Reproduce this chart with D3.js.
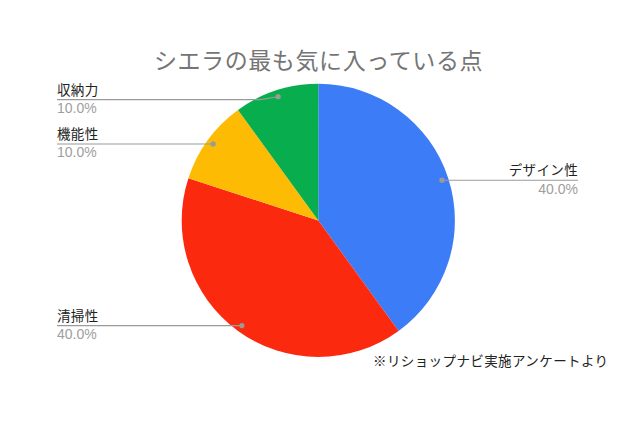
<!DOCTYPE html>
<html><head><meta charset="utf-8">
<script src="https://cdn.jsdelivr.net/npm/d3@7"></script>
<style>
html,body{margin:0;padding:0;background:#fff;}
svg{display:block;font-family:"Noto Sans CJK JP","Noto Sans",sans-serif;}
</style></head>
<body>
<svg id="c" width="640" height="422"></svg>
<script>
const title = "シエラの最も気に入っている点";
const note = "※リショップナビ実施アンケートより";
const categories = ["デザイン性", "清掃性", "機能性", "収納力"];
const values = [40, 40, 10, 10];
const colors = ["#3c7df7", "#fb2a0f", "#fdbb03", "#08ad4e"];

const svg = d3.select("#c");
const W = 640, H = 422;
const cx = 318.3, cy = 220.4, R = 136.6;

svg.append("text").attr("x", 318.5).attr("y", 68.5).attr("text-anchor", "middle")
  .attr("font-size", 23).attr("fill", "#757575").attr("letter-spacing", 0.6).text(title);

const data = categories.map((c, i) => ({cat: c, value: values[i], color: colors[i]}));
const total = d3.sum(values);
const pie = d3.pie().value(d => d.value).sort(null);
const arcs = pie(data);
const arc = d3.arc().innerRadius(0).outerRadius(R);
const g = svg.append("g").attr("transform", `translate(${cx},${cy})`);
g.selectAll("path").data(arcs).join("path").attr("d", arc).attr("fill", d => d.data.color);

const inner = d3.arc().innerRadius(R * 0.952).outerRadius(R * 0.952);
const leftX = 57, rightX = 578, topMin = 99.6;
arcs.forEach(a => {
  const [dx, dy] = inner.centroid(a);
  const px = cx + dx, py = cy + dy;
  const right = dx > 0;
  const ly = Math.max(py, topMin);
  const endX = right ? rightX : leftX;
  const kneeX = right ? px + 18 : px - 18;
  svg.append("path")
    .attr("d", d3.line()([[px, py], [kneeX, ly], [endX, ly]]))
    .attr("fill", "none").attr("stroke", "#9a9a9a").attr("stroke-width", 1.1);
  svg.append("circle").attr("cx", px).attr("cy", py).attr("r", 2.6).attr("fill", "#9a9a9a");
  const anchor = right ? "end" : "start";
  svg.append("text").attr("x", endX).attr("y", ly - 5).attr("text-anchor", anchor)
    .attr("font-size", 13.5).attr("fill", "#222").attr("letter-spacing", 0.35).text(a.data.cat);
  svg.append("text").attr("x", endX).attr("y", ly + 13.5).attr("text-anchor", anchor)
    .attr("font-family", "Liberation Sans, Arial, sans-serif")
    .attr("font-size", 14).attr("fill", "#9e9e9e").text(d3.format(".1%")(a.data.value / total));
});

svg.append("text").attr("x", 373).attr("y", 366).attr("font-size", 13.5)
  .attr("fill", "#222").attr("letter-spacing", 0.4).text(note);
</script>
</body></html>
